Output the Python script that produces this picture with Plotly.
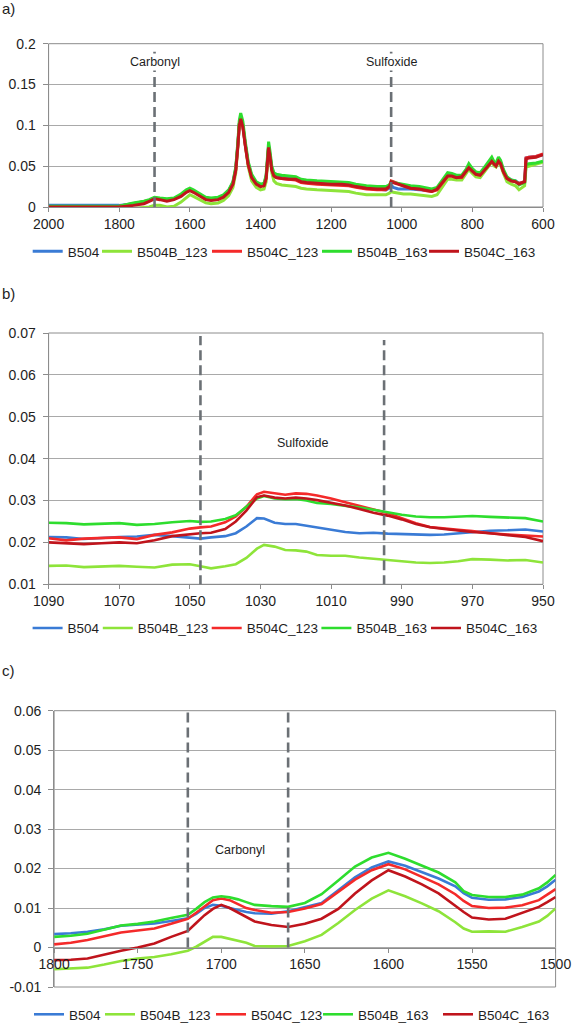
import plotly.graph_objects as go

# ---------------- data ----------------
names = ["B504", "B504B_123", "B504C_123", "B504B_163", "B504C_163"]
colors = ["#3A7BD5", "#8EE43A", "#F42A2A", "#2EDD2E", "#C0141C"]

# Panel a: full spectrum
x_a = [2000, 1900, 1800, 1760, 1730, 1715, 1700, 1685, 1665, 1645,
       1625, 1610, 1600, 1590, 1570, 1555, 1540, 1520, 1505, 1490,
       1478, 1470, 1464, 1460, 1456, 1450, 1443, 1435, 1425, 1412,
       1400, 1390, 1384, 1380, 1377, 1373, 1368, 1362, 1355, 1340,
       1320, 1300, 1285, 1270, 1240, 1200, 1170, 1150, 1130, 1100,
       1070, 1045, 1035, 1030, 1024, 1010, 995, 975, 950, 930,
       915, 900, 885, 870, 858, 845, 830, 818, 810, 800,
       790, 778, 765, 752, 745, 738, 733, 726, 720, 712,
       702, 690, 678, 668, 660, 652, 648, 640, 620, 600]
a_B504 = [0.002, 0.002, 0.002, 0.004, 0.006, 0.008, 0.011, 0.010, 0.009, 0.010,
          0.014, 0.019, 0.021, 0.019, 0.015, 0.011, 0.010, 0.011, 0.014, 0.020,
          0.030, 0.047, 0.077, 0.102, 0.110, 0.100, 0.077, 0.054, 0.038, 0.030,
          0.027, 0.028, 0.037, 0.062, 0.075, 0.064, 0.047, 0.040, 0.038, 0.036,
          0.036, 0.034, 0.031, 0.030, 0.029, 0.028, 0.028, 0.027, 0.025, 0.023,
          0.022, 0.021, 0.023, 0.027, 0.024, 0.022, 0.022, 0.022, 0.021, 0.020,
          0.020, 0.022, 0.031, 0.040, 0.039, 0.037, 0.037, 0.044, 0.050, 0.045,
          0.041, 0.040, 0.047, 0.054, 0.058, 0.053, 0.052, 0.058, 0.055, 0.044,
          0.036, 0.033, 0.032, 0.029, 0.030, 0.031, 0.060, 0.061, 0.062, 0.064]
a_B504B_123 = [-0.005, -0.004, -0.004, -0.002, -0.001, 0.000, 0.002, 0.002, 0.000, 0.001,
               0.006, 0.012, 0.015, 0.013, 0.009, 0.005, 0.004, 0.005, 0.008, 0.014,
               0.024, 0.042, 0.074, 0.102, 0.111, 0.101, 0.076, 0.050, 0.032, 0.024,
               0.021, 0.022, 0.031, 0.058, 0.073, 0.061, 0.042, 0.032, 0.029, 0.027,
               0.026, 0.025, 0.023, 0.022, 0.021, 0.020, 0.020, 0.019, 0.017, 0.015,
               0.015, 0.015, 0.017, 0.019, 0.018, 0.017, 0.016, 0.016, 0.015, 0.014,
               0.013, 0.015, 0.025, 0.034, 0.034, 0.033, 0.033, 0.040, 0.046, 0.041,
               0.037, 0.036, 0.043, 0.050, 0.055, 0.050, 0.049, 0.055, 0.051, 0.041,
               0.031, 0.028, 0.026, 0.021, 0.024, 0.026, 0.049, 0.050, 0.052, 0.055]
a_B504C_123 = [0.000, 0.000, 0.001, 0.004, 0.006, 0.008, 0.011, 0.010, 0.009, 0.010,
               0.014, 0.019, 0.021, 0.019, 0.014, 0.010, 0.009, 0.010, 0.013, 0.019,
               0.029, 0.046, 0.076, 0.101, 0.109, 0.099, 0.076, 0.053, 0.037, 0.029,
               0.026, 0.027, 0.036, 0.061, 0.074, 0.063, 0.046, 0.039, 0.036, 0.035,
               0.034, 0.033, 0.030, 0.029, 0.028, 0.027, 0.027, 0.026, 0.024, 0.022,
               0.021, 0.021, 0.025, 0.032, 0.031, 0.029, 0.026, 0.023, 0.022, 0.020,
               0.019, 0.021, 0.030, 0.038, 0.038, 0.036, 0.036, 0.043, 0.049, 0.044,
               0.040, 0.039, 0.046, 0.053, 0.057, 0.052, 0.051, 0.057, 0.054, 0.043,
               0.035, 0.032, 0.031, 0.029, 0.030, 0.031, 0.060, 0.061, 0.062, 0.065]
a_B504B_163 = [0.001, 0.001, 0.001, 0.005, 0.007, 0.009, 0.012, 0.011, 0.010, 0.011,
               0.016, 0.021, 0.023, 0.021, 0.016, 0.012, 0.011, 0.012, 0.015, 0.021,
               0.031, 0.049, 0.080, 0.106, 0.115, 0.105, 0.080, 0.056, 0.040, 0.031,
               0.028, 0.029, 0.039, 0.066, 0.080, 0.068, 0.050, 0.042, 0.040, 0.039,
               0.038, 0.037, 0.034, 0.033, 0.032, 0.031, 0.031, 0.030, 0.028, 0.026,
               0.025, 0.025, 0.027, 0.031, 0.030, 0.029, 0.027, 0.026, 0.025, 0.023,
               0.022, 0.024, 0.033, 0.042, 0.041, 0.039, 0.039, 0.046, 0.053, 0.047,
               0.043, 0.042, 0.049, 0.057, 0.061, 0.055, 0.054, 0.061, 0.057, 0.046,
               0.037, 0.033, 0.032, 0.027, 0.029, 0.030, 0.052, 0.053, 0.054, 0.056]
a_B504C_163 = [0.000, 0.000, 0.000, 0.002, 0.004, 0.007, 0.010, 0.009, 0.007, 0.009,
               0.013, 0.018, 0.020, 0.018, 0.013, 0.009, 0.008, 0.009, 0.012, 0.018,
               0.028, 0.045, 0.075, 0.100, 0.108, 0.098, 0.075, 0.052, 0.036, 0.028,
               0.025, 0.026, 0.035, 0.060, 0.073, 0.062, 0.045, 0.038, 0.036, 0.035,
               0.034, 0.034, 0.031, 0.030, 0.029, 0.028, 0.028, 0.027, 0.025, 0.023,
               0.022, 0.022, 0.025, 0.031, 0.030, 0.028, 0.025, 0.023, 0.022, 0.020,
               0.019, 0.022, 0.030, 0.038, 0.038, 0.036, 0.037, 0.043, 0.048, 0.044,
               0.040, 0.039, 0.045, 0.052, 0.056, 0.052, 0.050, 0.056, 0.053, 0.043,
               0.035, 0.032, 0.031, 0.028, 0.030, 0.031, 0.059, 0.060, 0.061, 0.064]

# Panel b: sulfoxide region
x_b = [1090, 1085, 1080, 1075, 1070, 1065, 1060, 1055, 1050, 1047,
       1044, 1040, 1037, 1034, 1031, 1029, 1026, 1023, 1020, 1017,
       1014, 1010, 1006, 1002, 998, 994, 990, 986, 982, 978,
       974, 970, 965, 960, 955, 950]
b_B504 = [0.0213, 0.0212, 0.0208, 0.0211, 0.0213, 0.0214, 0.0218, 0.0215, 0.0211, 0.0209,
          0.0212, 0.0215, 0.0222, 0.0238, 0.0258, 0.0257, 0.0247, 0.0244, 0.0244, 0.0240,
          0.0235, 0.0230, 0.0225, 0.0222, 0.0223, 0.0221, 0.0220, 0.0220, 0.0218, 0.0219,
          0.0222, 0.0226, 0.0228, 0.0229, 0.0231, 0.0226]
b_B504B_123 = [0.0144, 0.0145, 0.0141, 0.0142, 0.0144, 0.0142, 0.0140, 0.0147, 0.0148, 0.0143,
               0.0138, 0.0143, 0.0148, 0.0163, 0.0185, 0.0194, 0.0190, 0.0182, 0.0181, 0.0178,
               0.0170, 0.0168, 0.0168, 0.0164, 0.0161, 0.0158, 0.0155, 0.0152, 0.0151, 0.0152,
               0.0155, 0.0160, 0.0159, 0.0157, 0.0158, 0.0152]
b_B504C_123 = [0.0210, 0.0205, 0.0209, 0.0210, 0.0212, 0.0208, 0.0218, 0.0224, 0.0233, 0.0236,
               0.0238, 0.0248, 0.0262, 0.0285, 0.0315, 0.0321, 0.0318, 0.0314, 0.0317, 0.0316,
               0.0312, 0.0305, 0.0296, 0.0287, 0.0279, 0.0270, 0.0258, 0.0246, 0.0237, 0.0233,
               0.0230, 0.0227, 0.0222, 0.0219, 0.0216, 0.0214]
b_B504B_163 = [0.0247, 0.0246, 0.0243, 0.0245, 0.0246, 0.0242, 0.0244, 0.0248, 0.0251, 0.0249,
               0.0250, 0.0256, 0.0265, 0.0285, 0.0305, 0.0311, 0.0305, 0.0303, 0.0304, 0.0300,
               0.0294, 0.0292, 0.0288, 0.0283, 0.0278, 0.0272, 0.0266, 0.0262, 0.0260, 0.0260,
               0.0261, 0.0263, 0.0261, 0.0259, 0.0258, 0.0250]
b_B504C_163 = [0.0200, 0.0198, 0.0196, 0.0198, 0.0200, 0.0198, 0.0205, 0.0215, 0.0220, 0.0222,
               0.0223, 0.0232, 0.0250, 0.0276, 0.0308, 0.0312, 0.0307, 0.0305, 0.0307, 0.0305,
               0.0301, 0.0295, 0.0288, 0.0280, 0.0271, 0.0264, 0.0255, 0.0244, 0.0236, 0.0232,
               0.0228, 0.0225, 0.0222, 0.0218, 0.0213, 0.0203]

# Panel c: carbonyl region
x_c = [1800, 1790, 1780, 1770, 1760, 1750, 1740, 1730, 1720, 1715,
       1710, 1705, 1700, 1695, 1690, 1685, 1680, 1670, 1660, 1650,
       1640, 1630, 1620, 1610, 1600, 1590, 1580, 1570, 1560, 1555,
       1550, 1540, 1530, 1520, 1510, 1505, 1500]
c_B504 = [0.0034, 0.0036, 0.0040, 0.0046, 0.0055, 0.0058, 0.0061, 0.0067, 0.0074, 0.0085,
          0.0100, 0.0108, 0.0106, 0.0100, 0.0095, 0.0090, 0.0087, 0.0086, 0.0092, 0.0102,
          0.0113, 0.0145, 0.0178, 0.0203, 0.0218, 0.0207, 0.0192, 0.0175, 0.0155, 0.0138,
          0.0126, 0.0121, 0.0122, 0.0128, 0.0142, 0.0155, 0.0172]
c_B504B_123 = [-0.0055, -0.0053, -0.0051, -0.0043, -0.0034, -0.0028, -0.0024, -0.0017, -0.0008, 0.0002,
               0.0015, 0.0027, 0.0027, 0.0022, 0.0018, 0.0012, 0.0004, 0.0003, 0.0004, 0.0016,
               0.0032, 0.0062, 0.0095, 0.0124, 0.0145, 0.0130, 0.0112, 0.0092, 0.0064, 0.0048,
               0.0040, 0.0041, 0.0040, 0.0052, 0.0066, 0.0080, 0.0099]
c_B504C_123 = [0.0008, 0.0012, 0.0019, 0.0028, 0.0038, 0.0043, 0.0048, 0.0060, 0.0073, 0.0088,
               0.0105, 0.0120, 0.0124, 0.0120, 0.0110, 0.0100, 0.0095, 0.0088, 0.0090, 0.0099,
               0.0110, 0.0140, 0.0172, 0.0196, 0.0211, 0.0198, 0.0180, 0.0160, 0.0135, 0.0118,
               0.0105, 0.0100, 0.0101, 0.0107, 0.0120, 0.0135, 0.0148]
c_B504B_163 = [0.0027, 0.0030, 0.0035, 0.0045, 0.0056, 0.0060, 0.0066, 0.0075, 0.0083, 0.0098,
               0.0115, 0.0127, 0.0130, 0.0127, 0.0122, 0.0115, 0.0108, 0.0105, 0.0103, 0.0113,
               0.0135, 0.0170, 0.0205, 0.0228, 0.0240, 0.0225, 0.0207, 0.0190, 0.0165, 0.0143,
               0.0133, 0.0128, 0.0128, 0.0134, 0.0150, 0.0165, 0.0184]
c_B504C_163 = [-0.0032, -0.0031, -0.0028, -0.0018, -0.0008, 0.0000, 0.0010, 0.0027, 0.0042, 0.0062,
               0.0082, 0.0098, 0.0108, 0.0100, 0.0088, 0.0077, 0.0066, 0.0057, 0.0052, 0.0060,
               0.0073, 0.0098, 0.0137, 0.0170, 0.0196, 0.0180, 0.0160, 0.0137, 0.0105, 0.0090,
               0.0076, 0.0071, 0.0073, 0.0088, 0.0103, 0.0115, 0.0128]

# Tick labels
a_xticks = [2000, 1800, 1600, 1400, 1200, 1000, 800, 600]
a_yticks = [0, 0.05, 0.1, 0.15, 0.2]
a_ytext = ["0", "0.05", "0.1", "0.15", "0.2"]
b_xticks = [1090, 1070, 1050, 1030, 1010, 990, 970, 950]
b_yticks = [0.01, 0.02, 0.03, 0.04, 0.05, 0.06, 0.07]
b_ytext = ["0.01", "0.02", "0.03", "0.04", "0.05", "0.06", "0.07"]
c_xticks = [1800, 1750, 1700, 1650, 1600, 1550, 1500]
c_yticks = [-0.01, 0, 0.01, 0.02, 0.03, 0.04, 0.05, 0.06]
c_ytext = ["-0.01", "0", "0.01", "0.02", "0.03", "0.04", "0.05", "0.06"]

# Marker lines (band boundaries) and labels
a_marks = [1700, 1030]
a_labels = ["Carbonyl", "Sulfoxide"]
b_marks = [1047, 995]
b_label_pos = (1018, 0.0437)
c_marks = [1720, 1660]
c_label_pos = (1689, 0.0246)

# ---------------- figure ----------------
W, H = 573, 1024
FONT = "Liberation Sans, Arial, sans-serif"
GRID = "#A9A9A9"
AXL = "#8C8C8C"
TXT = "#1E1E1E"
DASH = "#6B7075"

def px_x(p):
    return p / W

def px_y(p):
    return 1 - p / H

# legend text-start positions (px) and vertical centre per panel
legend_text_x = {
    "a": [67.7, 137, 247, 357, 464],
    "b": [67.6, 137.8, 246.7, 356.4, 466],
    "c": [69, 140, 251, 358, 478],
}
legend_y = {"a": 251.5, "b": 628.3, "c": 1014.5}

fig = go.Figure()

panels = [
    ("a", "x", "y", x_a, [a_B504, a_B504B_123, a_B504C_123, a_B504B_163, a_B504C_163], 3),
    ("b", "x2", "y2", x_b, [b_B504, b_B504B_123, b_B504C_123, b_B504B_163, b_B504C_163], 2.6),
    ("c", "x3", "y3", x_c, [c_B504, c_B504B_123, c_B504C_123, c_B504B_163, c_B504C_163], 2.6),
]
legend_layout = {}
n = 0
for key, xa, ya, xs, series, lw in panels:
    for i, (name, col, ys) in enumerate(zip(names, colors, series)):
        n += 1
        lid = "legend" if n == 1 else f"legend{n}"
        fig.add_trace(go.Scatter(x=xs, y=ys, mode="lines", name=name,
                                 line=dict(color=col, width=lw),
                                 xaxis=xa, yaxis=ya, legend=lid,
                                 hoverinfo="skip"))
        legend_layout[lid] = dict(
            orientation="h", xanchor="left", yanchor="middle",
            x=px_x(legend_text_x[key][i] - 40), y=px_y(legend_y[key]),
            font=dict(family=FONT, size=13.5, color=TXT),
            bgcolor="rgba(0,0,0,0)", borderwidth=0,
            itemclick=False, itemdoubleclick=False)

dom_a_x = [px_x(48.6), px_x(543)]
dom_a_y = [px_y(207), px_y(43.7)]
dom_b_x = [px_x(48.6), px_x(543)]
dom_b_y = [px_y(584.3), px_y(333)]
dom_c_x = [px_x(54.1), px_x(555.6)]
dom_c_y = [px_y(987), px_y(710.7)]

tickfont = dict(family=FONT, size=14, color=TXT)

def xaxis_cfg(dom, rng, vals, anchor, **kw):
    d = dict(domain=dom, range=rng, tickvals=vals, ticktext=[str(v) for v in vals],
             showgrid=False, zeroline=False, showline=True, linecolor=AXL, linewidth=1,
             ticks="outside", ticklen=4, tickcolor=AXL, tickfont=tickfont,
             anchor=anchor, fixedrange=True, automargin=False,
             ticklabeloverflow="allow")
    d.update(kw)
    return d

def yaxis_cfg(dom, rng, vals, text, anchor):
    return dict(domain=dom, range=rng, tickvals=vals, ticktext=text,
                showgrid=True, gridcolor=GRID, gridwidth=1, zeroline=False,
                showline=True, linecolor=AXL, linewidth=1,
                ticks="outside", ticklen=5, tickcolor=AXL, tickfont=tickfont,
                ticklabelstandoff=4, anchor=anchor, fixedrange=True, automargin=False)

c_zero_pos = dom_c_y[0] + (dom_c_y[1] - dom_c_y[0]) * (0 - (-0.01)) / 0.07

fig.update_layout(
    template="none",
    width=W, height=H,
    margin=dict(l=0, r=0, t=0, b=0, autoexpand=False),
    paper_bgcolor="white", plot_bgcolor="white",
    font=dict(family=FONT, size=14, color=TXT),
    xaxis=xaxis_cfg(dom_a_x, [2000, 600], a_xticks, "y"),
    yaxis=yaxis_cfg(dom_a_y, [0, 0.2], a_yticks, a_ytext, "x"),
    xaxis2=xaxis_cfg(dom_b_x, [1090, 950], b_xticks, "y2"),
    yaxis2=yaxis_cfg(dom_b_y, [0.01, 0.07], b_yticks, b_ytext, "x2"),
    xaxis3=xaxis_cfg(dom_c_x, [1800, 1500], c_xticks, "free", position=c_zero_pos),
    yaxis3=yaxis_cfg(dom_c_y, [-0.01, 0.06], c_yticks, c_ytext, "x3"),
    showlegend=True,
    **legend_layout,
)

shapes = []
# frames
for xr, yr in [("x", "y"), ("x2", "y2"), ("x3", "y3")]:
    shapes.append(dict(type="rect", xref=f"{xr} domain", yref=f"{yr} domain",
                       x0=0, x1=1, y0=0, y1=1, line=dict(color=AXL, width=1),
                       layer="below"))
dash_line = dict(color=DASH, width=2.6, dash="10px,5px")
for m in a_marks:
    shapes.append(dict(type="line", xref="x", yref="y", x0=m, x1=m, y0=0, y1=0.19,
                       line=dash_line, layer="above"))
for m, top in zip(b_marks, [0.0693, 0.0683]):
    shapes.append(dict(type="line", xref="x2", yref="y2", x0=m, x1=m, y0=0.0098, y1=top,
                       line=dash_line, layer="above"))
for m in c_marks:
    shapes.append(dict(type="line", xref="x3", yref="y3", x0=m, x1=m, y0=0, y1=0.06,
                       line=dash_line, layer="above"))
fig.update_layout(shapes=shapes)

ann_font = dict(family=FONT, size=12.5, color=TXT)
annotations = []
for m, t in zip(a_marks, a_labels):
    annotations.append(dict(x=m, y=0.178, xref="x", yref="y", text=t, showarrow=False,
                            font=ann_font, bgcolor="white", borderpad=1))
annotations.append(dict(x=b_label_pos[0], y=b_label_pos[1], xref="x2", yref="y2",
                        text="Sulfoxide", showarrow=False, font=ann_font))
annotations.append(dict(x=c_label_pos[0], y=c_label_pos[1], xref="x3", yref="y3",
                        text="Carbonyl", showarrow=False, font=ann_font))
for lab, ypx in [("a)", 8.5), ("b)", 293), ("c)", 670)]:
    annotations.append(dict(x=0, y=px_y(ypx), xref="paper", yref="paper", text=lab,
                            xanchor="left", yanchor="middle", showarrow=False,
                            font=dict(family=FONT, size=15, color=TXT)))
fig.update_layout(annotations=annotations)

fig.write_html("out.html", config={"displayModeBar": False},
               post_script="document.body.style.margin='0';document.body.style.padding='0';")
